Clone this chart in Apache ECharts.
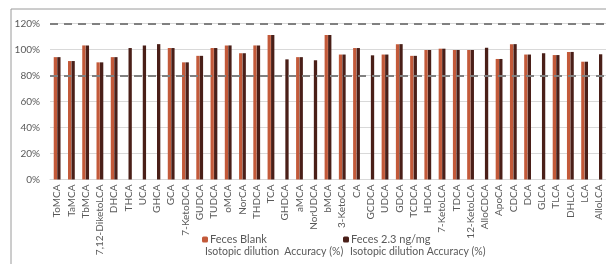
<!DOCTYPE html>
<html lang="en">
<head>
  <meta charset="UTF-8">
  <title>Isotopic dilution accuracy</title>
  <script src="https://cdn.jsdelivr.net/npm/echarts@6/dist/echarts.min.js"></script>
  <style>
    html, body { margin: 0; padding: 0; background: #fff; }
    #chart { width: 606px; height: 264px; }
  </style>
</head>
<body>
<div id="chart"></div>
<script type="text/javascript">
  // bile acids on the x axis
  var categories = ['ToMCA', 'TaMCA', 'TbMCA', '7,12-DiketoLCA', 'DHCA', 'THCA', 'UCA', 'GHCA', 'GCA',
    '7-KetoDCA', 'GUDCA', 'TUDCA', 'oMCA', 'NorCA', 'THDCA', 'TCA', 'GHDCA', 'aMCA', 'NorUDCA',
    'bMCA', '3-KetoCA', 'CA', 'GCDCA', 'UDCA', 'GDCA', 'TCDCA', 'HDCA', '7-KetoLCA', 'TDCA',
    '12-KetoLCA', 'AlloCDCA', 'ApoCA', 'CDCA', 'DCA', 'GLCA', 'TLCA', 'DHLCA', 'LCA', 'AlloLCA'];
  // accuracy in %, null = not measured
  var blankVals = [94, 91, 103, 90, 94, null, null, null, 101, 90, 95, 101, 103, 97, 103, 111, null, 94, null,
    111, 96, 101, null, 96, 104, 95, 99.5, 100.5, 99.5, 99.5, null, 92.6, 104, 96, null, 95.6, 98, 90.5, null];
  var spikedVals = [94, 91, 103, 90, 94, 101, 103, 104, 101, 90, 95, 101, 103, 97, 103, 111, 92.3, 94, 91.6,
    111, 96, 101, 95.4, 96, 104, 95, 99.5, 100.5, 99.5, 99.5, 101.3, 92.6, 104, 96, 97, 95.6, 98, 90.5, 96.2];
  var yTicks = [0, 20, 40, 60, 80, 100, 120];
  var limitLines = [80, 120];

  var font = 'Lato, "Open Sans", sans-serif';
  var myChart = echarts.init(document.getElementById('chart'));
  myChart.setOption({
    animation: false,
    textStyle: { fontFamily: font },
    grid: { left: 50, top: 23.3, width: 559, height: 156.2 },
    graphic: [
      // chart area border (cut off at the right and bottom)
      { type: 'rect', silent: true, shape: { x: 11, y: 9, width: 640, height: 300 },
        style: { fill: 'none', stroke: '#9a9a9a', lineWidth: 1 } },
      { type: 'text', left: 205, top: 246,
        style: { text: 'Isotopic dilution  Accuracy (%)', fill: '#595959', font: '10.5px ' + font } },
      { type: 'text', left: 350, top: 246,
        style: { text: 'Isotopic dilution Accuracy (%)', fill: '#595959', font: '10.5px ' + font } }
    ],
    legend: [
      { data: ['Feces Blank'], left: 197, top: 229, itemWidth: 6, itemHeight: 6, itemGap: 0,
        textStyle: { color: '#595959', fontSize: 11, fontFamily: font, padding: [0, 0, 0, -3] } },
      { data: ['Feces 2.3 ng/mg'], left: 338, top: 229, itemWidth: 6, itemHeight: 6, itemGap: 0,
        textStyle: { color: '#595959', fontSize: 11, fontFamily: font, padding: [0, 0, 0, -3] } }
    ],
    xAxis: {
      type: 'category',
      data: categories,
      axisTick: { show: false },
      axisLine: { lineStyle: { color: '#d9d9d9' } },
      axisLabel: { rotate: 90, interval: 0, color: '#595959', fontSize: 10, margin: 5 }
    },
    yAxis: {
      type: 'value',
      min: yTicks[0],
      max: yTicks[yTicks.length - 1],
      interval: 20,
      axisLine: { show: false },
      axisTick: { show: false },
      axisLabel: { formatter: '{value}%', color: '#595959', fontSize: 10, margin: 10 },
      splitLine: { lineStyle: { color: '#d9d9d9', width: 1 } }
    },
    series: [
      {
        name: 'Feces Blank',
        type: 'bar',
        data: blankVals,
        barWidth: 3.3,
        barGap: '6%',
        itemStyle: { color: '#c35a3a' },
        markLine: {
          silent: true,
          symbol: 'none',
          label: { show: false },
          lineStyle: { color: '#808080', width: 2, type: [8, 6] },
          data: limitLines.map(function (v) { return { yAxis: v }; })
        }
      },
      {
        name: 'Feces 2.3 ng/mg',
        type: 'bar',
        data: spikedVals,
        barWidth: 3.3,
        itemStyle: { color: '#4a1f18' }
      }
    ]
  });
</script>
</body>
</html>
